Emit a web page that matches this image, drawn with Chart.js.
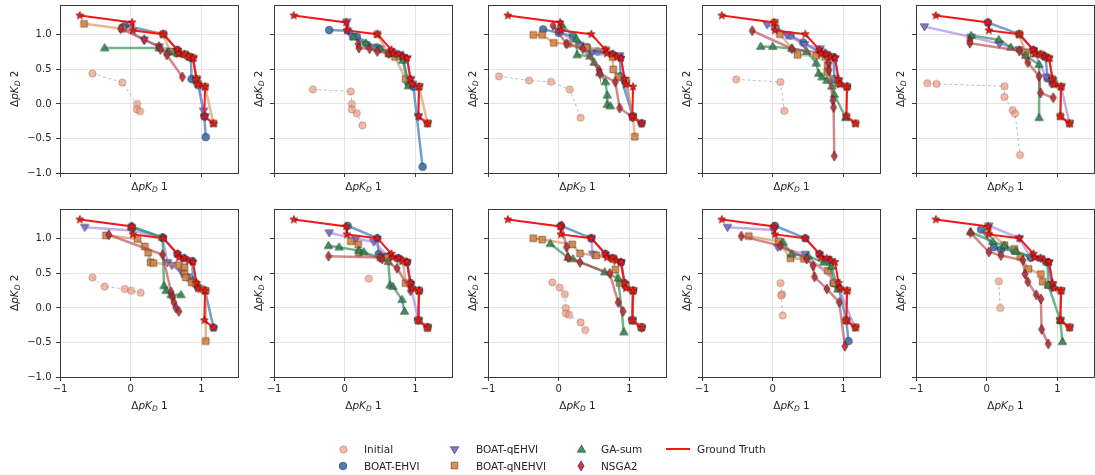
<!DOCTYPE html>
<html>
<head>
<meta charset="utf-8">
<script src="https://cdn.jsdelivr.net/npm/chart.js@4.4.0/dist/chart.umd.min.js"></script>
<style>
  html, body { margin: 0; padding: 0; background: #fff; }
  body { width: 1095px; height: 475px; overflow: hidden; position: relative; font-family: "DejaVu Sans", sans-serif; }
  canvas.plot { position: absolute; }
  .legtxt { position: absolute; font: 10.5px "DejaVu Sans", sans-serif; color: #262626; line-height: 14px; white-space: nowrap; }
  .legmk { position: absolute; }
</style>
</head>
<body>
<script>
// ---------------- DATA ----------------
// Ground truth Pareto front (identical in every panel)
const gtX = [-0.72, 0.02, 0.03, 0.46, 0.66, 0.68, 0.76, 0.82, 0.88, 0.93, 0.95, 1.05, 1.04, 1.17];
const gtY = [1.28, 1.18, 1.065, 1.01, 0.785, 0.73, 0.72, 0.685, 0.665, 0.36, 0.285, 0.25, -0.18, -0.285];

// One list of [ΔpKD1, ΔpKD2] points per panel (panels 1..10, row-major)
const initialPts = [
  [[-0.54,0.44],[-0.12,0.31],[0.09,0.0],[0.085,-0.08],[0.13,-0.105]],
  [[-0.45,0.21],[0.085,0.18],[0.10,0.0],[0.10,-0.08],[0.17,-0.135],[0.25,-0.31]],
  [[-0.845,0.40],[-0.42,0.34],[-0.11,0.32],[0.155,0.21],[0.31,-0.2]],
  [[-0.516,0.356],[0.108,0.317],[0.164,-0.1]],
  [[-0.84,0.3],[-0.71,0.29],[0.25,0.255],[0.25,0.1],[0.366,-0.09],[0.4,-0.14],[0.47,-0.74]],
  [[-0.54,0.44],[-0.37,0.31],[-0.085,0.275],[0.005,0.25],[0.14,0.22]],
  [[0.34,0.425]],
  [[-0.09,0.37],[0.014,0.295],[0.085,0.2],[0.1,0.0],[0.1,-0.08],[0.146,-0.1],[0.31,-0.21],[0.375,-0.32]],
  [[0.11,0.36],[0.13,0.2],[0.12,0.18],[0.14,-0.11]],
  [[0.17,0.386],[0.19,0.0]]
];
const ehviPts = [
  [[-0.08,1.135],[0.46,1.01],[0.66,0.78],[0.83,0.68],[0.85,0.67],[0.86,0.36],[0.93,0.32],[0.96,0.27],[1.04,-0.18],[1.06,-0.48]],
  [[-0.22,1.07],[0.05,1.06],[0.17,0.975],[0.45,0.82],[0.67,0.74],[0.82,0.68],[0.9,0.3],[0.97,0.25],[1.1,-0.91]],
  [[-0.22,1.08],[0.0,1.03],[0.2,0.98],[0.4,0.82],[0.55,0.76],[0.76,0.72],[0.87,0.67],[0.87,0.4],[1.05,-0.18],[1.17,-0.28]],
  [[0.04,1.1],[0.25,0.99],[0.43,0.89],[0.66,0.75],[0.86,0.68],[0.87,0.36],[0.93,0.3],[1.05,0.25]],
  [[0.014,1.18],[0.46,1.01],[0.66,0.78],[0.8,0.7],[0.83,0.68],[0.86,0.37],[0.93,0.3]],
  [[0.01,1.18],[0.45,1.02],[0.66,0.78],[0.75,0.72],[0.87,0.68],[0.88,0.4],[0.95,0.3],[1.05,0.25],[1.17,-0.285]],
  [[0.04,1.19],[0.46,1.01],[0.48,0.78],[0.6,0.74],[0.75,0.72],[0.88,0.66],[0.93,0.36],[1.05,0.25],[1.04,-0.18],[1.17,-0.28]],
  [[0.03,1.19],[0.46,1.01],[0.66,0.78],[0.76,0.72],[0.88,0.66],[0.93,0.36],[1.05,0.25],[1.04,-0.18],[1.17,-0.28]],
  [[0.03,1.19],[0.46,1.01],[0.66,0.78],[0.8,0.7],[0.86,0.36],[0.93,0.3],[1.04,-0.18],[1.07,-0.48]],
  [[-0.08,1.135],[0.1,0.88],[0.2,0.845],[0.39,0.83],[0.62,0.73],[0.86,0.66],[0.93,0.3]]
];
const qehviPts = [
  [[-0.1,1.1],[0.19,0.93],[0.4,0.83],[0.66,0.76],[0.76,0.72],[0.88,0.66],[0.93,0.36],[1.03,-0.1],[1.05,-0.18]],
  [[0.03,1.19],[0.1,0.98],[0.3,0.86],[0.5,0.8],[0.68,0.74],[0.78,0.72],[0.88,0.66],[0.93,0.36],[0.96,0.29],[1.05,0.25],[1.04,-0.18],[1.17,-0.28]],
  [[0.0,1.06],[0.3,0.85],[0.46,0.73],[0.86,0.7],[0.95,0.3],[1.04,-0.18],[1.17,-0.28]],
  [[-0.08,1.15],[0.2,1.0],[0.45,0.86],[0.67,0.8],[0.76,0.72],[0.88,0.66],[0.93,0.33]],
  [[-0.88,1.12],[-0.22,0.97],[0.18,0.87],[0.46,0.79],[0.66,0.77],[0.84,0.39],[0.93,0.33],[1.05,0.25],[1.17,-0.28]],
  [[-0.65,1.17],[0.02,1.12],[0.45,1.01],[0.52,0.66],[0.58,0.62],[0.72,0.52],[0.8,0.45]],
  [[-0.22,1.09],[0.155,1.0],[0.41,0.96],[0.6,0.75],[0.75,0.72],[0.88,0.66],[0.93,0.33],[1.04,-0.18],[1.17,-0.28]],
  [[0.46,1.01],[0.48,0.78],[0.76,0.72],[0.88,0.66],[0.93,0.33],[1.05,0.25],[1.04,-0.18],[1.17,-0.29]],
  [[-0.64,1.17],[0.014,1.13],[0.07,0.88],[0.46,0.78],[0.9,0.37],[1.16,-0.28]],
  [[0.03,1.19],[0.46,1.01],[0.62,0.73],[0.76,0.72],[0.88,0.66],[0.93,0.33],[1.05,0.25],[1.04,-0.18],[1.17,-0.28]]
];
const qnehviPts = [
  [[-0.66,1.16],[-0.12,1.09],[0.46,1.01],[0.55,0.76],[0.66,0.73],[0.76,0.72],[0.82,0.685],[0.88,0.665],[0.93,0.36],[0.95,0.29],[1.05,0.25],[1.17,-0.28]],
  [[0.46,1.01],[0.615,0.73],[0.71,0.68],[0.86,0.36],[0.93,0.3],[1.05,0.25],[1.17,-0.28]],
  [[-0.36,1.0],[-0.235,1.0],[-0.07,0.885],[0.13,0.87],[0.39,0.82],[0.67,0.78],[0.76,0.68],[0.77,0.5],[0.84,0.39],[0.95,0.34],[1.05,-0.19],[1.075,-0.475]],
  [[0.03,1.18],[0.1,1.01],[0.35,0.71],[0.615,0.7],[0.74,0.68],[0.775,0.56],[0.77,0.46],[0.93,0.3],[1.05,0.25],[1.04,-0.18],[1.17,-0.28]],
  [[0.46,1.01],[0.545,0.75],[0.66,0.73],[0.76,0.72],[0.88,0.66],[0.93,0.36],[0.95,0.29],[1.05,0.25],[1.04,-0.18],[1.17,-0.28]],
  [[-0.35,1.05],[0.094,1.0],[0.2,0.89],[0.245,0.8],[0.28,0.66],[0.32,0.65],[0.68,0.62],[0.76,0.59],[0.76,0.49],[0.78,0.44],[0.86,0.37],[0.92,0.35],[0.99,0.275],[1.06,0.25],[1.06,-0.48]],
  [[0.085,0.965],[0.19,0.92],[0.2,0.8],[0.5,0.73],[0.6,0.73],[0.82,0.68],[0.86,0.36],[1.05,0.25],[1.04,-0.18],[1.17,-0.29]],
  [[-0.36,1.01],[-0.235,0.99],[0.19,0.92],[0.3,0.79],[0.53,0.76],[0.765,0.71],[0.8,0.555],[0.86,0.36],[0.95,0.32],[1.05,0.25],[1.04,-0.18],[1.17,-0.28]],
  [[-0.34,1.04],[0.085,0.965],[0.25,0.72],[0.44,0.71],[0.78,0.54],[0.86,0.36],[1.05,0.25],[1.04,-0.18],[1.17,-0.28]],
  [[0.014,1.13],[0.25,0.91],[0.39,0.855],[0.474,0.74],[0.59,0.565],[0.765,0.49],[0.79,0.38],[0.87,0.33],[1.05,0.25],[1.04,-0.18],[1.17,-0.28]]
];
const gaPts = [
  [[-0.37,0.81],[0.4,0.81],[0.53,0.75],[0.66,0.74]],
  [[0.12,0.97],[0.3,0.88],[0.5,0.8],[0.64,0.73],[0.82,0.63],[0.9,0.26]],
  [[0.04,1.15],[0.25,0.94],[0.26,0.71],[0.44,0.69],[0.5,0.6],[0.58,0.45],[0.66,0.32],[0.685,0.125],[0.685,-0.01],[0.73,-0.03]],
  [[-0.17,0.83],[0.0,0.83],[0.27,0.8],[0.48,0.76],[0.615,0.59],[0.65,0.44],[0.695,0.39],[0.765,0.34],[0.835,0.255],[0.87,0.135],[1.03,-0.2]],
  [[-0.22,0.99],[0.17,0.93],[0.34,0.82],[0.55,0.7],[0.74,0.57],[0.74,-0.2]],
  [[0.01,1.17],[0.45,1.02],[0.47,0.32],[0.5,0.25],[0.57,0.19],[0.71,0.19]],
  [[-0.23,0.9],[-0.08,0.88],[0.2,0.83],[0.27,0.81],[0.615,0.67],[0.64,0.33],[0.68,0.31],[0.81,0.12],[0.845,-0.05]],
  [[-0.12,0.93],[0.13,0.73],[0.2,0.71],[0.65,0.52],[0.84,0.43],[0.92,-0.35]],
  [[0.145,0.95],[0.27,0.78],[0.5,0.75],[0.72,0.66],[0.83,0.6],[0.92,0.27]],
  [[-0.23,1.1],[0.085,0.96],[0.25,0.9],[0.41,0.82],[0.86,0.66],[0.87,0.33],[1.04,-0.18],[1.07,-0.49]]
];
const nsgaPts = [
  [[-0.14,1.09],[0.19,0.93],[0.4,0.83],[0.42,0.79],[0.51,0.71],[0.73,0.39]],
  [[0.19,0.87],[0.2,0.81],[0.35,0.8],[0.46,0.76],[0.62,0.73]],
  [[-0.08,1.135],[0.11,0.87],[0.34,0.8],[0.57,0.49],[0.58,0.44],[0.8,0.32],[0.86,-0.06],[1.04,-0.19]],
  [[-0.29,1.06],[0.27,0.8],[0.74,0.73],[0.79,0.6],[0.79,0.49],[0.85,0.05],[0.86,-0.05],[0.87,-0.755]],
  [[-0.24,0.92],[-0.24,0.88],[0.46,0.77],[0.58,0.6],[0.74,0.4],[0.76,0.16],[0.94,0.09]],
  [[-0.31,1.06],[0.45,0.77],[0.57,0.23],[0.59,0.155],[0.61,0.08],[0.64,0.0],[0.68,-0.05]],
  [[-0.23,0.75],[0.5,0.73],[0.53,0.71],[0.74,0.575],[0.93,0.25]],
  [[0.04,1.19],[0.11,0.88],[0.13,0.73],[0.3,0.66],[0.72,0.5],[0.84,0.08],[0.91,-0.05]],
  [[-0.445,1.04],[0.108,0.9],[0.48,0.71],[0.57,0.61],[0.59,0.45],[0.765,0.275],[0.94,0.08],[1.02,-0.555]],
  [[-0.23,1.09],[0.03,0.81],[0.2,0.76],[0.51,0.69],[0.54,0.49],[0.58,0.38],[0.7,0.19],[0.765,0.13],[0.775,-0.31],[0.87,-0.52]]
];

// Axis ticks and labels
const xTickValues = [-1, 0, 1];
const xTickLabels = ['\u22121', '0', '1'];
const yTickValues = [-1.0, -0.5, 0.0, 0.5, 1.0];
const yTickLabels = ['\u22121.0', '\u22120.5', '0.0', '0.5', '1.0'];
const xRange = [-1, 1.53];
const yRange = [-1, 1.44];
const xTitleSuffix = '1';
const yTitleSuffix = '2';

const seriesNames = ['Initial', 'BOAT-EHVI', 'BOAT-qEHVI', 'BOAT-qNEHVI', 'GA-sum', 'NSGA2', 'Ground Truth'];

// ---------------- STYLE ----------------
function makeMarker(shape, r, fill, stroke, lw) {
  const s = Math.ceil(r * 2 + lw * 2 + 2);
  const c = document.createElement('canvas');
  c.width = s; c.height = s;
  const g = c.getContext('2d');
  g.translate(s / 2, s / 2);
  g.beginPath();
  if (shape === 'circle') {
    g.arc(0, 0, r, 0, Math.PI * 2);
  } else if (shape === 'square') {
    g.rect(-r, -r, 2 * r, 2 * r);
  } else if (shape === 'triUp') {
    g.moveTo(0, -r); g.lineTo(r * 0.95, r * 0.62); g.lineTo(-r * 0.95, r * 0.62); g.closePath();
  } else if (shape === 'triDown') {
    g.moveTo(0, r); g.lineTo(r * 0.95, -r * 0.62); g.lineTo(-r * 0.95, -r * 0.62); g.closePath();
  } else if (shape === 'diamond') {
    g.moveTo(0, -r); g.lineTo(r * 0.62, 0); g.lineTo(0, r); g.lineTo(-r * 0.62, 0); g.closePath();
  } else if (shape === 'star') {
    for (let i = 0; i < 10; i++) {
      const rr = i % 2 === 0 ? r : r * 0.42;
      const a = -Math.PI / 2 + i * Math.PI / 5;
      const px = rr * Math.cos(a), py = rr * Math.sin(a);
      if (i === 0) g.moveTo(px, py); else g.lineTo(px, py);
    }
    g.closePath();
  }
  g.fillStyle = fill; g.fill();
  g.lineWidth = lw; g.strokeStyle = stroke; g.stroke();
  return c;
}

const styles = [
  { line: 'rgba(110,155,200,0.6)', width: 1, dash: [3, 2.5], marker: makeMarker('circle', 3.6, 'rgba(236,150,122,0.65)', 'rgba(150,80,60,0.55)', 0.8) },
  { line: 'rgba(70,125,185,0.75)', width: 2.5, dash: [], marker: makeMarker('circle', 3.8, 'rgba(62,112,170,0.9)', 'rgba(30,40,60,0.7)', 0.8) },
  { line: 'rgba(160,120,225,0.6)', width: 2.5, dash: [], marker: makeMarker('triDown', 4.4, 'rgba(125,105,200,0.9)', 'rgba(40,30,70,0.7)', 0.8) },
  { line: 'rgba(215,140,80,0.62)', width: 2.5, dash: [], marker: makeMarker('square', 3.3, 'rgba(215,132,66,0.9)', 'rgba(70,40,20,0.7)', 0.8) },
  { line: 'rgba(60,150,95,0.72)', width: 2.5, dash: [], marker: makeMarker('triUp', 4.4, 'rgba(52,135,82,0.9)', 'rgba(20,50,30,0.7)', 0.8) },
  { line: 'rgba(180,65,70,0.62)', width: 2.5, dash: [], marker: makeMarker('diamond', 5, 'rgba(178,48,54,0.9)', 'rgba(60,15,15,0.7)', 0.8) },
  { line: '#f01a1a', width: 2, dash: [], marker: makeMarker('star', 4.2, '#f01a1a', 'rgba(110,0,0,0.85)', 0.7) }
];

// Layout of the 2 x 5 panel grid (pixels)
const boxLeft = [60, 274, 488, 702, 916];
const boxTop = [4, 208];
const boxW = 179, boxH = 169;
const padTop = 10, padRight = 8, yAxisW = 60, xAxisH = 40;

function drawMathLabel(ctx, cx, cy, suffix, rotate) {
  const parts = [
    { t: '\u0394', f: '10.5px "DejaVu Sans"', dy: 0 },
    { t: 'pK', f: 'italic 10.5px "DejaVu Sans"', dy: 0 },
    { t: 'D', f: 'italic 7.5px "DejaVu Sans"', dy: 2.6 },
    { t: ' ' + suffix, f: '10.5px "DejaVu Sans"', dy: 0 }
  ];
  let total = 0;
  parts.forEach(p => { ctx.font = p.f; p.w = ctx.measureText(p.t).width; total += p.w; });
  ctx.save();
  ctx.translate(cx, cy);
  if (rotate) ctx.rotate(-Math.PI / 2);
  ctx.fillStyle = '#262626';
  ctx.textBaseline = 'middle';
  ctx.textAlign = 'left';
  let x = -total / 2;
  parts.forEach(p => { ctx.font = p.f; ctx.fillText(p.t, x, p.dy); x += p.w; });
  ctx.restore();
}

const framePlugin = {
  id: 'frame',
  afterDraw(chart, args, opts) {
    const { ctx, chartArea: a } = chart;
    ctx.save();
    ctx.strokeStyle = '#3a3a3a';
    ctx.lineWidth = 1;
    ctx.strokeRect(Math.round(a.left) + 0.5, Math.round(a.top) + 0.5, Math.round(a.right - a.left) - 1, Math.round(a.bottom - a.top) - 1);
    ctx.restore();
    drawMathLabel(ctx, (a.left + a.right) / 2, a.bottom + opts.xTitleDy, xTitleSuffix, false);
    drawMathLabel(ctx, a.left - opts.yTitleDx, (a.top + a.bottom) / 2, yTitleSuffix, true);
  }
};

function toXY(pts) { return pts.map(p => ({ x: p[0], y: p[1] })); }

const allSeries = [initialPts, ehviPts, qehviPts, qnehviPts, gaPts, nsgaPts];

for (let k = 0; k < 10; k++) {
  const row = Math.floor(k / 5), col = k % 5;
  const cv = document.createElement('canvas');
  cv.className = 'plot';
  const cw = yAxisW + boxW + padRight, ch = padTop + boxH + xAxisH;
  cv.width = cw; cv.height = ch;
  cv.style.left = (boxLeft[col] - yAxisW) + 'px';
  cv.style.top = (boxTop[row] - padTop) + 'px';
  cv.style.width = cw + 'px'; cv.style.height = ch + 'px';
  document.body.appendChild(cv);

  const datasets = [];
  allSeries.forEach((ser, si) => {
    datasets.push({
      label: seriesNames[si],
      data: toXY(ser[k]),
      showLine: true,
      borderColor: styles[si].line,
      borderWidth: styles[si].width,
      borderDash: styles[si].dash,
      pointStyle: styles[si].marker,
      pointRadius: 4,
      pointHoverRadius: 4,
      tension: 0,
      order: 6 - si,
      clip: false
    });
  });
  datasets.push({
    label: seriesNames[6],
    data: gtX.map((x, i) => ({ x: x, y: gtY[i] })),
    showLine: true,
    borderColor: styles[6].line,
    borderWidth: styles[6].width,
    pointStyle: styles[6].marker,
    pointRadius: 4,
    tension: 0,
    order: 0,
    clip: false
  });

  const showX = row === 1, showY = col === 0;
  new Chart(cv, {
    type: 'scatter',
    data: { datasets },
    options: {
      responsive: false,
      animation: false,
      devicePixelRatio: 1,
      events: [],
      layout: { padding: { top: padTop, right: padRight, left: 0, bottom: 0 } },
      plugins: {
        legend: { display: false },
        tooltip: { enabled: false },
        frame: { xTitleDy: row === 0 ? 14.5 : 29, yTitleDx: col === 0 ? 45 : 14.5 }
      },
      scales: {
        x: {
          type: 'linear', min: xRange[0], max: xRange[1],
          afterBuildTicks: s => { s.ticks = xTickValues.map(v => ({ value: v })); },
          afterFit: s => { s.height = xAxisH; },
          ticks: {
            autoSkip: false, maxRotation: 0, padding: 2,
            color: '#262626', font: { family: 'DejaVu Sans', size: 10 },
            callback: (v) => showX ? xTickLabels[xTickValues.indexOf(v)] : ''
          },
          grid: { color: '#e4e4e4', lineWidth: 1, tickLength: 4, tickColor: '#3a3a3a', drawTicks: true },
          border: { display: false }
        },
        y: {
          type: 'linear', min: yRange[0], max: yRange[1],
          afterBuildTicks: s => { s.ticks = yTickValues.map(v => ({ value: v })); },
          afterFit: s => { s.width = yAxisW; },
          ticks: {
            autoSkip: false, padding: 4.5,
            color: '#262626', font: { family: 'DejaVu Sans', size: 10 },
            callback: (v) => showY ? yTickLabels[yTickValues.indexOf(v)] : ''
          },
          grid: { color: '#e4e4e4', lineWidth: 1, tickLength: 4, tickColor: '#3a3a3a', drawTicks: true },
          border: { display: false }
        }
      }
    },
    plugins: [framePlugin]
  });
}

// ---------------- LEGEND (4 columns, column-major) ----------------
const legMarkerX = [343, 343, 454, 454, 581, 581];
const legTextX = [364, 364, 476, 476, 601, 601, 697];
const legRowY = [449, 465.5];
seriesNames.forEach((name, i) => {
  const rowI = i === 6 ? 0 : i % 2;
  const cy = legRowY[rowI];
  if (i < 6) {
    const m = styles[i].marker;
    const c = document.createElement('canvas');
    c.width = m.width; c.height = m.height;
    c.getContext('2d').drawImage(m, 0, 0);
    c.className = 'legmk';
    c.style.left = (legMarkerX[i] - m.width / 2) + 'px';
    c.style.top = (cy - m.height / 2) + 'px';
    document.body.appendChild(c);
  } else {
    const ln = document.createElement('div');
    ln.style.cssText = 'position:absolute;left:666px;width:24px;height:2px;background:#f01a1a;top:' + (cy - 1) + 'px';
    document.body.appendChild(ln);
  }
  const t = document.createElement('div');
  t.className = 'legtxt';
  t.textContent = name;
  t.style.left = legTextX[i] + 'px';
  t.style.top = (cy - 7) + 'px';
  document.body.appendChild(t);
});
</script>
</body>
</html>
